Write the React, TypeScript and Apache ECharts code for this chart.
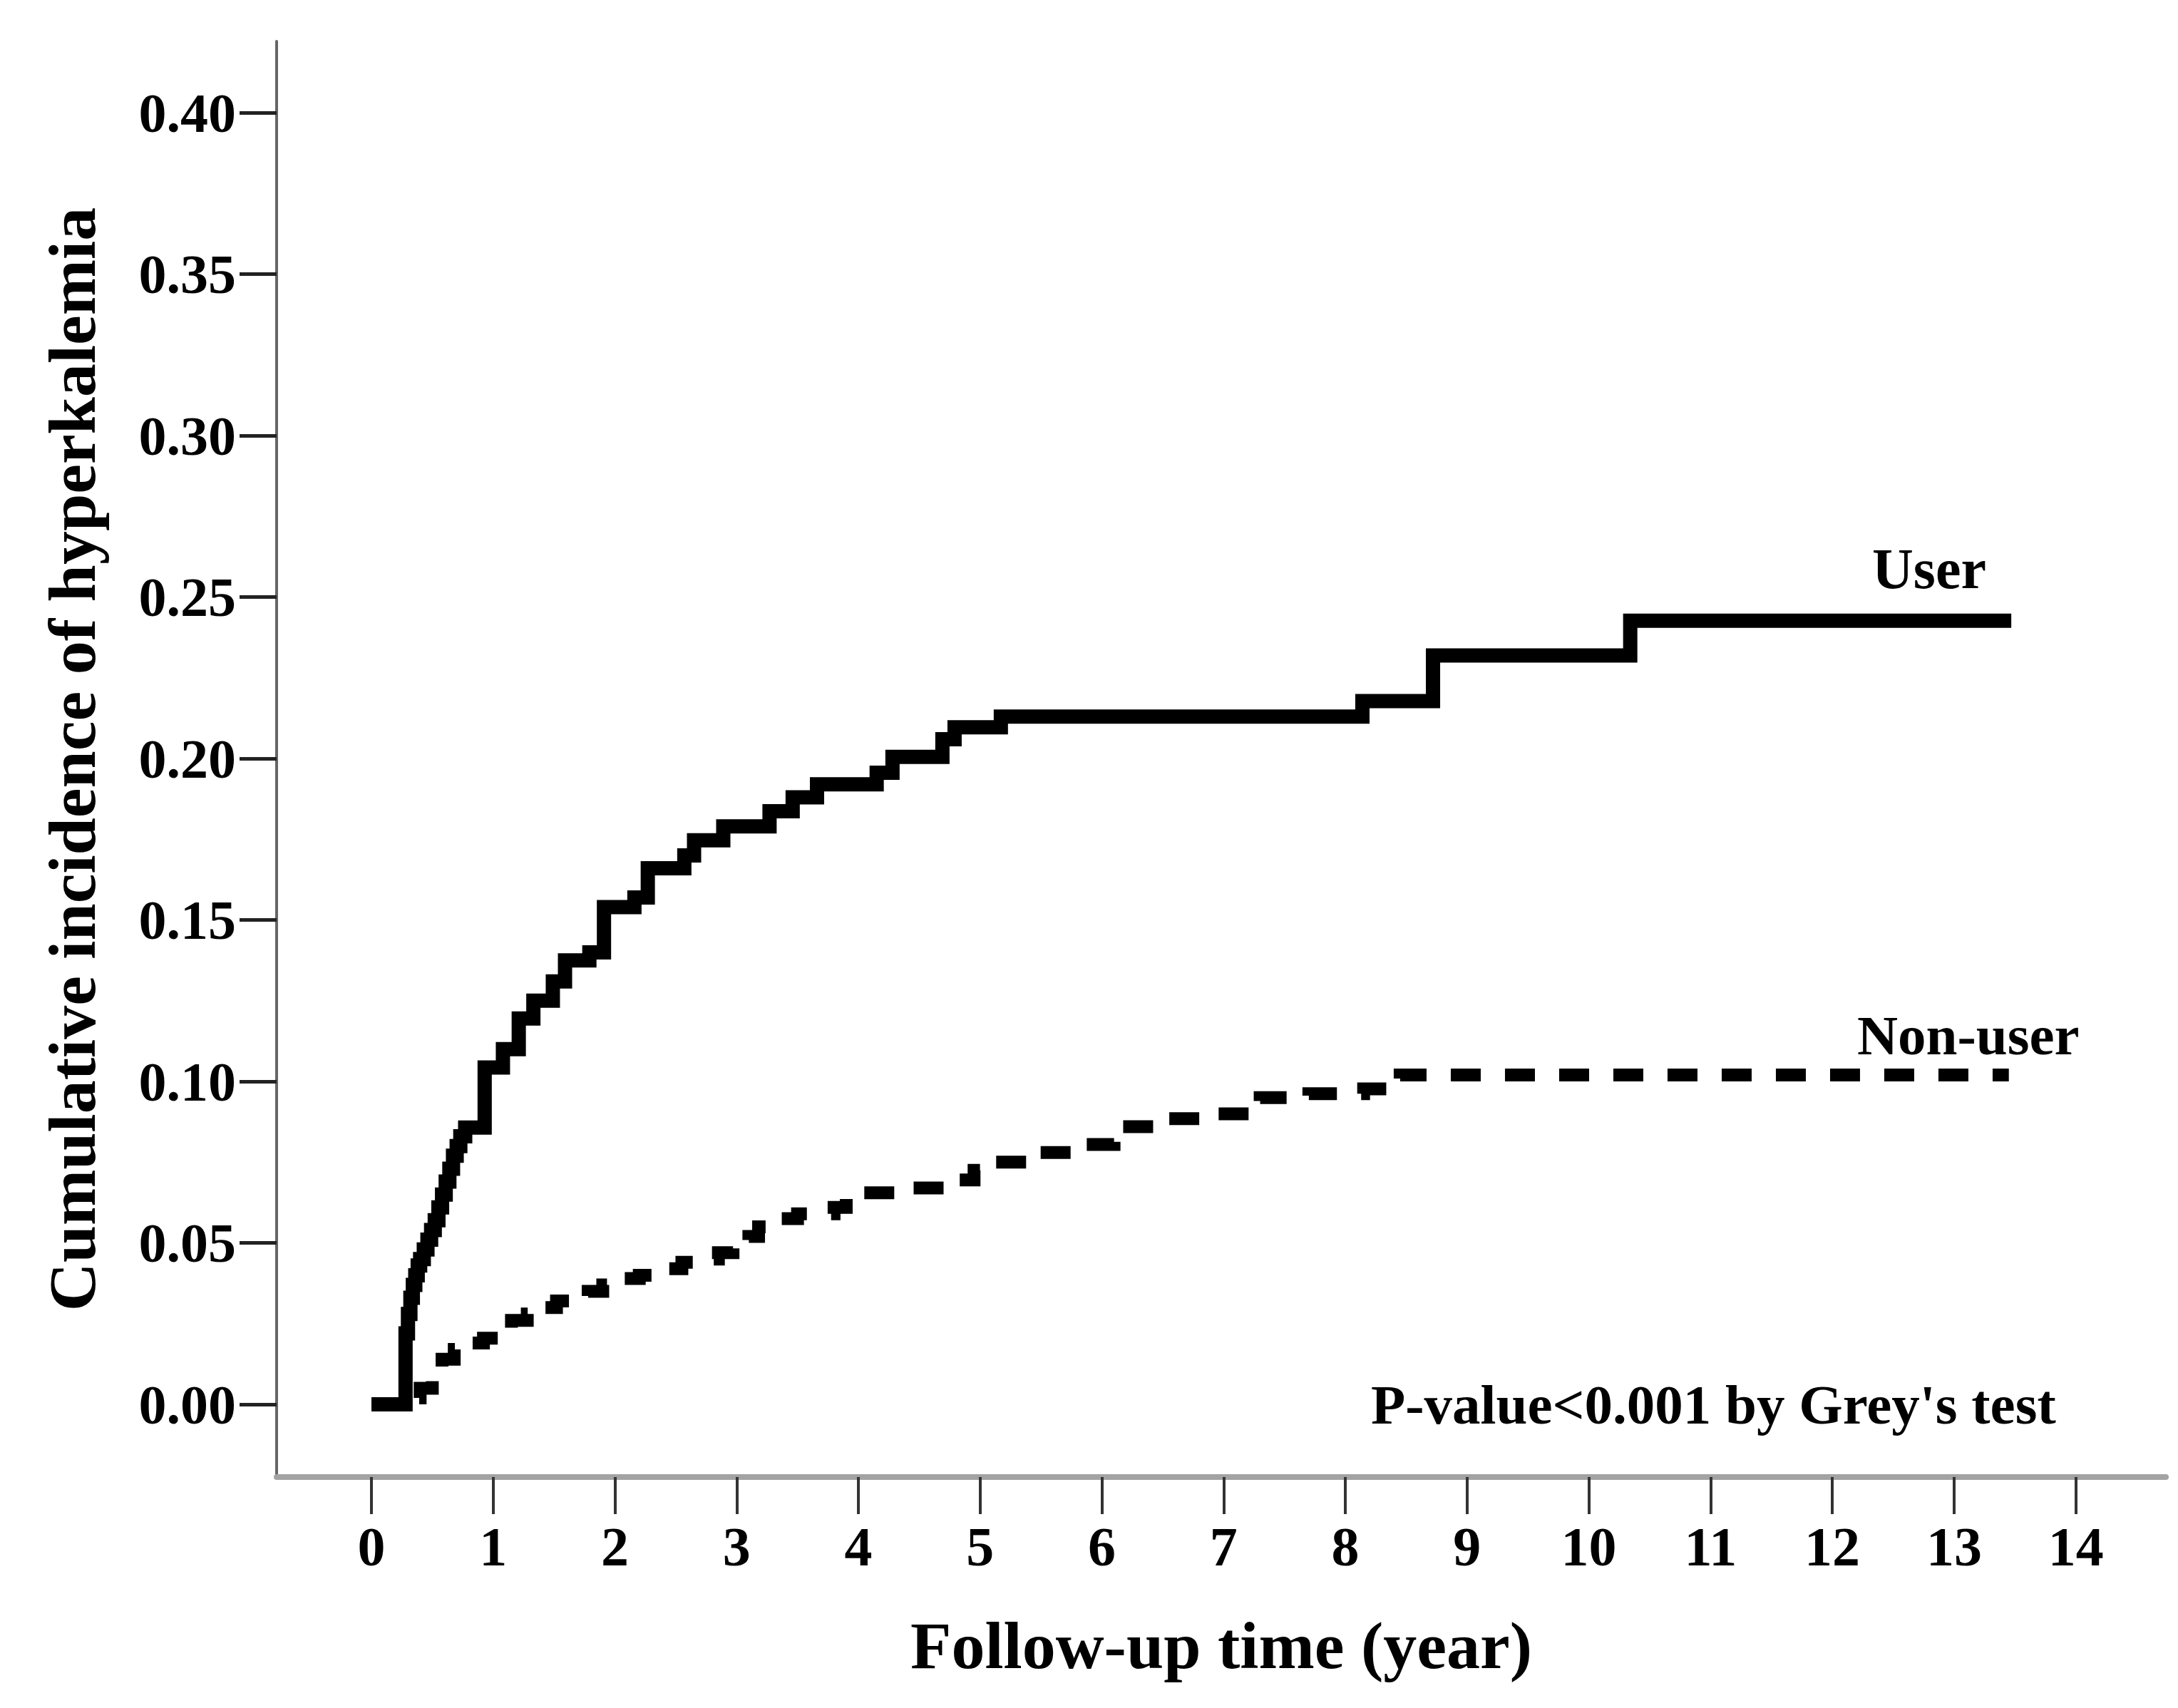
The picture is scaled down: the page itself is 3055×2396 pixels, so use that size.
import React, { useEffect, useRef } from "react";
import * as echarts from "echarts";

// Cumulative incidence (step function) – User
const userTime = [0, 0.28, 0.30, 0.32, 0.34, 0.36, 0.38, 0.40, 0.43, 0.46, 0.49, 0.52, 0.55, 0.58, 0.61, 0.64, 0.67, 0.70, 0.73, 0.77, 0.93, 1.08, 1.21, 1.33, 1.49, 1.59, 1.79, 1.91, 2.16, 2.27, 2.57, 2.65, 2.89, 3.27, 3.46, 3.66, 4.15, 4.28, 4.69, 4.79, 5.17, 8.14, 8.72, 10.34, 13.47];
const userValue = [0, 0.022, 0.028, 0.033, 0.037, 0.040, 0.043, 0.045, 0.048, 0.051, 0.054, 0.057, 0.061, 0.065, 0.069, 0.073, 0.077, 0.080, 0.083, 0.0857, 0.1043, 0.110, 0.1195, 0.125, 0.131, 0.1375, 0.140, 0.154, 0.157, 0.166, 0.170, 0.1747, 0.179, 0.1837, 0.188, 0.192, 0.1956, 0.2005, 0.206, 0.2097, 0.213, 0.2178, 0.2319, 0.2427, 0.2427];

// Cumulative incidence (step function) – Non-user
const nonUserTime = [0, 0.30, 0.40, 0.50, 0.58, 0.68, 0.80, 0.92, 1.05, 1.15, 1.28, 1.40, 1.52, 1.65, 1.78, 1.90, 2.05, 2.20, 2.40, 2.55, 2.70, 2.85, 2.97, 3.10, 3.18, 3.25, 3.50, 3.80, 3.90, 4.00, 4.30, 4.70, 4.95, 5.05, 5.40, 5.80, 6.10, 6.50, 6.95, 7.30, 7.70, 8.15, 8.45, 13.45];
const nonUserValue = [0, 0.002, 0.005, 0.009, 0.014, 0.017, 0.019, 0.0205, 0.023, 0.026, 0.028, 0.030, 0.032, 0.033, 0.035, 0.037, 0.039, 0.040, 0.042, 0.044, 0.045, 0.047, 0.049, 0.052, 0.055, 0.0575, 0.059, 0.061, 0.064, 0.0655, 0.067, 0.0695, 0.0725, 0.075, 0.078, 0.0805, 0.086, 0.0885, 0.090, 0.095, 0.0962, 0.0977, 0.102, 0.102];

const xTicks = [0, 1, 2, 3, 4, 5, 6, 7, 8, 9, 10, 11, 12, 13, 14];
const yTicks = [0, 0.05, 0.1, 0.15, 0.2, 0.25, 0.3, 0.35, 0.4];

const seriesLabels = ["User", "Non-user"];
const annotation = "P-value<0.001 by Grey's test";
const xTitle = "Follow-up time (year)";
const yTitle = "Cumulative incidence of hyperkalemia";

const FONT = "'Liberation Serif', 'Times New Roman', serif";

export default function App() {
  const ref = useRef<HTMLDivElement>(null);

  useEffect(() => {
    if (!ref.current) return;
    const chart = echarts.init(ref.current, null, { renderer: "svg" });
    const userData = userTime.map((t, i) => [t, userValue[i]]);
    const nonUserData = nonUserTime.map((t, i) => [t, nonUserValue[i]]);

    chart.setOption({
      animation: false,
      backgroundColor: "#ffffff",
      grid: { left: 388, right: 17, top: 58, bottom: 324, containLabel: false },
      xAxis: {
        type: "value",
        min: -0.779,
        max: 14.74,
        name: xTitle,
        nameLocation: "middle",
        nameGap: 189,
        nameTextStyle: { fontFamily: FONT, fontWeight: "bold", fontSize: 94, color: "#000", verticalAlign: "top" },
        axisLine: { show: true, onZero: false, lineStyle: { color: "#a3a3a3", width: 8 } },
        axisTick: { show: true, length: 52, customValues: xTicks, lineStyle: { color: "#333", width: 4 } },
        axisLabel: {
          show: true,
          customValues: xTicks,
          margin: 58,
          fontFamily: FONT,
          fontWeight: "bold",
          fontSize: 78,
          color: "#000",
          formatter: (v: number) => String(v),
        },
        splitLine: { show: false },
      },
      yAxis: {
        type: "value",
        min: -0.0225,
        max: 0.4221,
        name: yTitle,
        nameLocation: "middle",
        nameGap: 240,
        nameTextStyle: { fontFamily: FONT, fontWeight: "bold", fontSize: 94, color: "#000" },
        axisLine: { show: true, onZero: false, lineStyle: { color: "#666", width: 4 } },
        axisTick: { show: true, length: 52, customValues: yTicks, lineStyle: { color: "#222", width: 5 } },
        axisLabel: {
          show: true,
          customValues: yTicks,
          margin: 57,
          fontFamily: FONT,
          fontWeight: "bold",
          fontSize: 78,
          color: "#000",
          formatter: (v: number) => v.toFixed(2),
        },
        splitLine: { show: false },
      },
      series: [
        {
          name: seriesLabels[0],
          type: "line",
          step: "end",
          data: userData,
          symbol: "none",
          z: 3,
          lineStyle: { color: "#000", width: 20, cap: "butt", join: "miter" },
        },
        {
          name: seriesLabels[1],
          type: "line",
          step: "end",
          data: nonUserData,
          symbol: "none",
          z: 2,
          lineStyle: { color: "#000", width: 18, type: [42, 34], cap: "butt", join: "miter" },
        },
      ],
      graphic: [
        {
          type: "text",
          x: 2626,
          y: 798,
          style: { text: seriesLabels[0], font: `bold 80px ${FONT}`, fill: "#000", textAlign: "left", verticalAlign: "middle" },
        },
        {
          type: "text",
          x: 2605,
          y: 1452,
          style: { text: seriesLabels[1], font: `bold 79px ${FONT}`, fill: "#000", textAlign: "left", verticalAlign: "middle" },
        },
        {
          type: "text",
          x: 1923,
          y: 1970,
          style: { text: annotation, font: `bold 79px ${FONT}`, fill: "#000", textAlign: "left", verticalAlign: "middle" },
        },
      ],
    });
    return () => chart.dispose();
  }, []);

  return (
    <div
      ref={ref}
      style={{ position: "absolute", left: 0, top: 0, width: 3055, height: 2396, background: "#fff" }}
    />
  );
}
